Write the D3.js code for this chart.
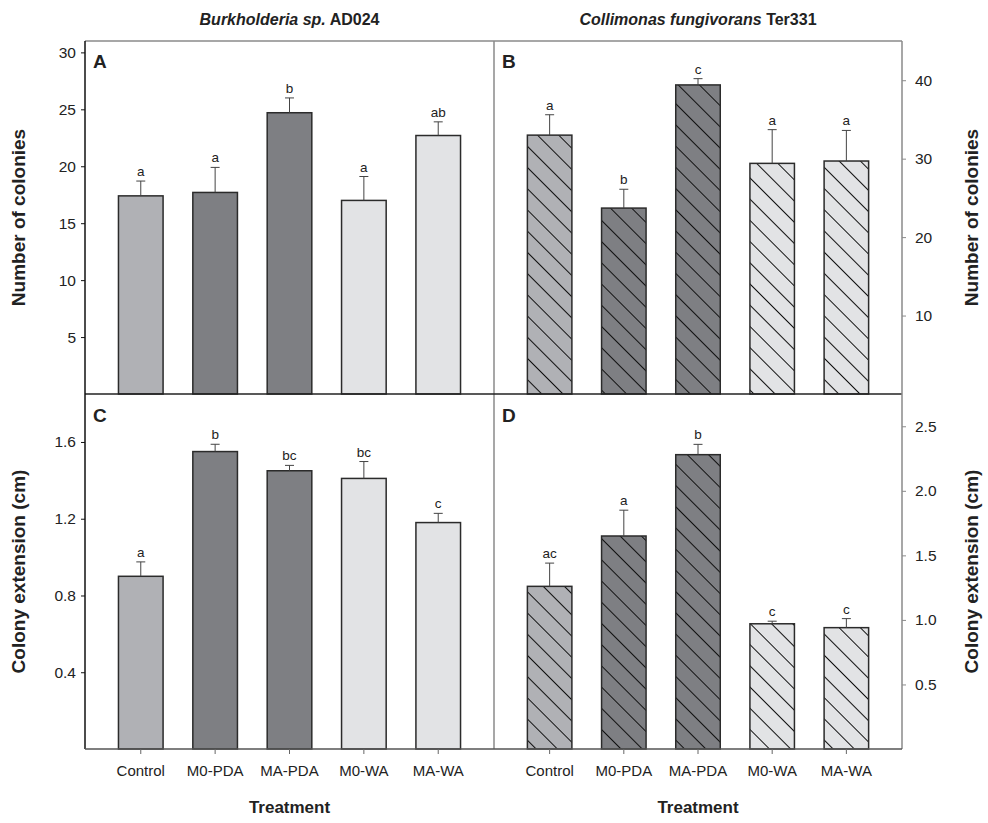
<!DOCTYPE html>
<html>
<head>
<meta charset="utf-8">
<script src="https://cdn.jsdelivr.net/npm/d3@7"></script>
<style>
  body { margin: 0; background: #fff; }
  svg { font-family: "Liberation Sans", Arial, sans-serif; }
</style>
</head>
<body>
<div id="chart"></div>
<script>
// treatments, shared by all four panels
const treatments = ['Control', 'M0-PDA', 'MA-PDA', 'M0-WA', 'MA-WA'];

// A: Burkholderia, number of colonies
const colA = [17.4, 17.7, 24.7, 17.0, 22.7];
const errA = [1.3, 2.2, 1.3, 2.1, 1.2];
const letA = ['a', 'a', 'b', 'a', 'ab'];

// B: Collimonas, number of colonies
const colB = [33.0, 23.7, 39.4, 29.4, 29.7];
const errB = [2.6, 2.4, 0.8, 4.3, 3.9];
const letB = ['a', 'b', 'c', 'a', 'a'];

// C: Burkholderia, colony extension (cm)
const extC = [0.90, 1.55, 1.45, 1.41, 1.18];
const errC = [0.075, 0.038, 0.028, 0.088, 0.048];
const letC = ['a', 'b', 'bc', 'bc', 'c'];

// D: Collimonas, colony extension (cm)
const extD = [1.26, 1.65, 2.28, 0.97, 0.94];
const errD = [0.18, 0.20, 0.08, 0.02, 0.07];
const letD = ['ac', 'a', 'b', 'c', 'c'];

const ticksA = [5, 10, 15, 20, 25, 30];
const ticksB = [10, 20, 30, 40];
const ticksC = [0.4, 0.8, 1.2, 1.6];
const ticksD = [0.5, 1.0, 1.5, 2.0, 2.5];

const fills = {
  'Control': '#b0b1b5',
  'M0-PDA': '#7e7f83',
  'MA-PDA': '#7e7f83',
  'M0-WA': '#e2e3e5',
  'MA-WA': '#e2e3e5'
};

const width = 988, height = 823;
const colL = {x0: 85, x1: 494};
const colR = {x0: 494, x1: 902};
const rowT = {y0: 41, y1: 394};
const rowB = {y0: 394, y1: 749};

const svg = d3.select('#chart').append('svg')
  .attr('width', width)
  .attr('height', height);

// hatch patterns for the Collimonas panels
const defs = svg.append('defs');
treatments.forEach((t, i) => {
  const p = defs.append('pattern')
    .attr('id', 'hatch' + i)
    .attr('patternUnits', 'userSpaceOnUse')
    .attr('width', 15)
    .attr('height', 15)
    .attr('patternTransform', 'rotate(45)');
  p.append('rect').attr('width', 15).attr('height', 15).attr('fill', fills[t]);
  p.append('line')
    .attr('x1', 0).attr('y1', 0.5).attr('x2', 15).attr('y2', 0.5)
    .attr('stroke', '#111').attr('stroke-width', 1);
});

const xLeft = d3.scaleBand().domain(treatments).range([colL.x0, colL.x1]).paddingInner(0.4).paddingOuter(0.45);
const xRight = d3.scaleBand().domain(treatments).range([colR.x0, colR.x1]).paddingInner(0.4).paddingOuter(0.45);

const yA = d3.scaleLinear().domain([0, 31]).range([rowT.y1, rowT.y0]);
const yB = d3.scaleLinear().domain([0, 45]).range([rowT.y1, rowT.y0]);
const yC = d3.scaleLinear().domain([0, 1.85]).range([rowB.y1, rowB.y0]);
const yD = d3.scaleLinear().domain([0, 2.75]).range([rowB.y1, rowB.y0]);

function drawBars(x, y, vals, errs, lets, hatched) {
  const g = svg.append('g');
  const data = treatments.map((t, i) => ({t, i, v: vals[i], e: errs[i], l: lets[i]}));

  g.selectAll('rect.bar').data(data).enter().append('rect')
    .attr('class', 'bar')
    .attr('x', d => x(d.t))
    .attr('y', d => y(d.v))
    .attr('width', x.bandwidth())
    .attr('height', d => y(0) - y(d.v))
    .attr('fill', d => hatched ? `url(#hatch${d.i})` : fills[d.t])
    .attr('stroke', '#2b2b2b')
    .attr('stroke-width', 1.5);

  const cx = d => x(d.t) + x.bandwidth() / 2;

  g.selectAll('line.err').data(data).enter().append('line')
    .attr('x1', cx).attr('x2', cx)
    .attr('y1', d => y(d.v)).attr('y2', d => y(d.v + d.e))
    .attr('stroke', '#444').attr('stroke-width', 1);

  g.selectAll('line.cap').data(data).enter().append('line')
    .attr('x1', d => cx(d) - 4.5).attr('x2', d => cx(d) + 4.5)
    .attr('y1', d => y(d.v + d.e)).attr('y2', d => y(d.v + d.e))
    .attr('stroke', '#444').attr('stroke-width', 1);

  g.selectAll('text.let').data(data).enter().append('text')
    .attr('x', cx)
    .attr('y', d => y(d.v + d.e) - 5)
    .attr('text-anchor', 'middle')
    .style('font-size', '13.5px')
    .attr('fill', '#222')
    .text(d => d.l);
}

drawBars(xLeft, yA, colA, errA, letA, false);
drawBars(xRight, yB, colB, errB, letB, true);
drawBars(xLeft, yC, extC, errC, letC, false);
drawBars(xRight, yD, extD, errD, letD, true);

// frame lines
const frame = svg.append('g').attr('fill', 'none');
frame.append('line').attr('x1', colL.x0).attr('x2', colR.x1).attr('y1', rowT.y0).attr('y2', rowT.y0)
  .attr('stroke', '#8a8a8a').attr('stroke-width', 1.5);
frame.append('line').attr('x1', colL.x1).attr('x2', colL.x1).attr('y1', rowT.y0).attr('y2', rowB.y1)
  .attr('stroke', '#8a8a8a').attr('stroke-width', 1.5);
frame.append('line').attr('x1', colL.x0).attr('x2', colR.x1).attr('y1', rowT.y1).attr('y2', rowT.y1)
  .attr('stroke', '#222').attr('stroke-width', 1.5);

// y axes
function yAxis(scale, ticks, side, fmt) {
  const x = side === 'left' ? colL.x0 : colR.x1;
  const axis = (side === 'left' ? d3.axisLeft(scale) : d3.axisRight(scale))
    .tickValues(ticks).tickSize(4).tickPadding(side === 'left' ? 5 : 9)
    .tickFormat(fmt ? d3.format(fmt) : d3.format('d'));
  const g = svg.append('g').attr('transform', `translate(${x},0)`).call(axis);
  const col = side === 'left' ? '#111' : '#8a8a8a';
  g.select('.domain').attr('stroke', col).attr('stroke-width', 1.5)
    .attr('d', `M0,${scale.range()[0]}V${scale.range()[1]}`);
  g.selectAll('.tick line').attr('stroke', col);
  g.selectAll('.tick text').attr('fill', '#222').style('font-size', '15.5px');
}

yAxis(yA, ticksA, 'left');
yAxis(yB, ticksB, 'right');
yAxis(yC, ticksC, 'left', '.1f');
yAxis(yD, ticksD, 'right', '.1f');

// x axes at the bottom
function xAxis(scale, range) {
  const g = svg.append('g').attr('transform', `translate(0,${rowB.y1})`)
    .call(d3.axisBottom(scale).tickSize(5).tickPadding(11));
  g.select('.domain').attr('stroke', '#555').attr('stroke-width', 1.5)
    .attr('d', `M${range.x0},0H${range.x1}`);
  g.selectAll('.tick line').attr('stroke', '#666');
  g.selectAll('.tick text').attr('fill', '#222').style('font-size', '15px');
}
xAxis(xLeft, colL);
xAxis(xRight, colR);

// panel letters
const panelLetters = [
  {t: 'A', x: colL.x0 + 8, y: rowT.y0 + 27},
  {t: 'B', x: colR.x0 + 8, y: rowT.y0 + 27},
  {t: 'C', x: colL.x0 + 8, y: rowB.y0 + 28},
  {t: 'D', x: colR.x0 + 8, y: rowB.y0 + 28}
];
svg.selectAll('text.panel').data(panelLetters).enter().append('text')
  .attr('x', d => d.x).attr('y', d => d.y)
  .style('font-size', '19px').style('font-weight', 'bold').attr('fill', '#222')
  .text(d => d.t);

// titles
function title(x, italicPart, plainPart) {
  const t = svg.append('text')
    .attr('x', x).attr('y', 25)
    .attr('text-anchor', 'middle')
    .style('font-size', '16px').style('font-weight', 'bold').attr('fill', '#222');
  t.append('tspan').style('font-style', 'italic').text(italicPart);
  t.append('tspan').text(plainPart);
}
title((colL.x0 + colL.x1) / 2, 'Burkholderia sp.', ' AD024');
title((colR.x0 + colR.x1) / 2, 'Collimonas fungivorans', ' Ter331');

// axis titles
function yTitle(x, yMid, label) {
  svg.append('text')
    .attr('transform', `translate(${x},${yMid}) rotate(-90)`)
    .attr('text-anchor', 'middle')
    .style('font-size', '19px').style('font-weight', 'bold').attr('fill', '#222')
    .text(label);
}
yTitle(25, (rowT.y0 + rowT.y1) / 2, 'Number of colonies');
yTitle(978, (rowT.y0 + rowT.y1) / 2, 'Number of colonies');
yTitle(25, (rowB.y0 + rowB.y1) / 2, 'Colony extension (cm)');
yTitle(978, (rowB.y0 + rowB.y1) / 2, 'Colony extension (cm)');

svg.append('text').attr('x', (colL.x0 + colL.x1) / 2).attr('y', 813)
  .attr('text-anchor', 'middle').style('font-size', '17px').style('font-weight', 'bold').attr('fill', '#222')
  .text('Treatment');
svg.append('text').attr('x', (colR.x0 + colR.x1) / 2).attr('y', 813)
  .attr('text-anchor', 'middle').style('font-size', '17px').style('font-weight', 'bold').attr('fill', '#222')
  .text('Treatment');
</script>
</body>
</html>
